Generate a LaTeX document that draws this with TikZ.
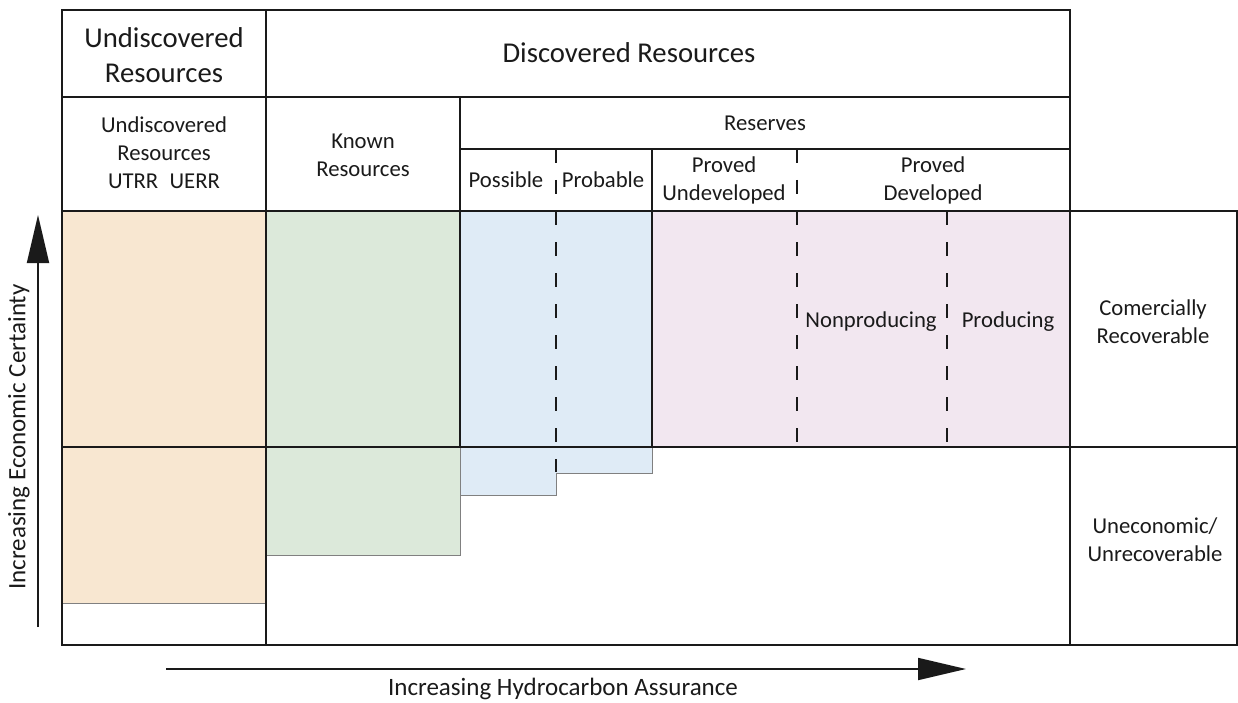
\documentclass[tikz,border=0pt]{standalone}
\usepackage{fontspec}
\setmainfont{Carlito}
\usetikzlibrary{arrows.meta}
\definecolor{undisc}{HTML}{F8E7D1}
\definecolor{known}{HTML}{DCE9DA}
\definecolor{poss}{HTML}{DFEBF6}
\definecolor{proved}{HTML}{F2E7F0}
\definecolor{edgegray}{HTML}{808080}
\definecolor{ink}{HTML}{1A1A1A}
\tikzset{
  frame/.style={draw=ink, line width=1.8pt},
  dashline/.style={draw=ink, line width=1.8pt, dash pattern=on 14pt off 17pt},
  stepedge/.style={draw=edgegray, line width=1pt},
  big/.style={align=center, font=\fontsize{28.7}{35}\selectfont, text=ink},
  txt/.style={align=center, font=\fontsize{22.7}{28}\selectfont, text=ink},
  axislabel/.style={font=\fontsize{25}{29}\selectfont, text=ink},
  axisarrow/.style={draw=ink, line width=1.8pt, -{Triangle[length=48pt,width=22pt]}}
}
\begin{document}
\begin{tikzpicture}[x=1pt,y=-1pt]
\useasboundingbox (0,0) rectangle (1238,703);
% fills
\fill[undisc] (62,211) rectangle (266,603);
\fill[known] (266,211) rectangle (460,555);
\fill[poss] (460,211) -- (652,211) -- (652,473) -- (556,473) -- (556,495) -- (460,495) -- cycle;
\fill[proved] (652,211) rectangle (1070,447);
% step edges
\draw[stepedge] (62,603) -- (266,603);
\draw[stepedge] (266,555) -- (460,555) -- (460,447);
\draw[stepedge] (460,495) -- (556,495) -- (556,473) -- (652,473) -- (652,447);
% dashed lines
\draw[dashline] (556,149) -- (556,472);
\draw[dashline] (797,149) -- (797,447);
\draw[dashline] (947,211) -- (947,447);
% frame lines
\draw[frame] (62,10) rectangle (1070,645);
\draw[frame] (62,97) -- (1070,97);
\draw[frame] (460,149) -- (1070,149);
\draw[frame] (62,211) -- (1237,211) -- (1237,645) -- (1070,645);
\draw[frame] (62,447) -- (1237,447);
\draw[frame] (266,10) -- (266,645);
\draw[frame] (460,97) -- (460,447);
\draw[frame] (652,149) -- (652,447);
% texts
\node[big] (undisc) at (164,55) {Undiscovered\\Resources};
\node[big] (disc) at (629,53) {Discovered Resources};
\node[txt] (undisc2) at (164,153) {Undiscovered\\Resources\\UTRR\enspace UERR};
\node[txt] (known) at (363,155) {Known\\Resources};
\node[txt] (reserves) at (765,123) {Reserves};
\node[txt] (possible) at (506,180) {Possible};
\node[txt] (probable) at (603,180) {Probable};
\node[txt] (pu) at (724,180) {Proved\\Undeveloped};
\node[txt] (pd) at (933,180) {Proved\\Developed};
\node[txt] (nonprod) at (871,322) {Nonproducing};
\node[txt] (prod) at (1008,322) {Producing};
\node[txt] (comm) at (1153,322) {Comercially\\Recoverable};
\node[txt] (unec) at (1155,540) {Uneconomic/\\Unrecoverable};
% axes
\coordinate (vtail) at (38,627);
\coordinate (vhead) at (38,215);
\coordinate (htail) at (166,669);
\coordinate (hhead) at (966,669);
\draw[axisarrow] (vtail) -- (vhead);
\draw[axisarrow] (htail) -- (hhead);
\node[axislabel, rotate=90] (ylab) at (19,437) {Increasing Economic Certainty};
\node[axislabel] (xlab) at (563,689) {Increasing Hydrocarbon Assurance};
\end{tikzpicture}
\end{document}
